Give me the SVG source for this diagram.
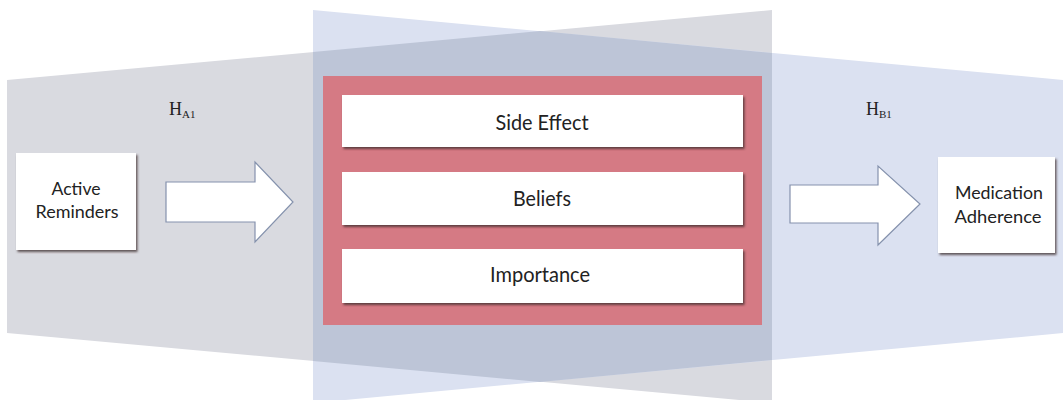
<svg xmlns="http://www.w3.org/2000/svg" width="1063" height="400" viewBox="0 0 1063 400">
  <defs>
    <filter id="sh" x="-10%" y="-10%" width="130%" height="140%">
      <feDropShadow dx="1.5" dy="2" stdDeviation="0.8" flood-color="#3a2a2a" flood-opacity="0.75"/>
    </filter>
  </defs>
  <style>
    .box { fill: #ffffff; filter: url(#sh); }
    .lbl { font-family: "Lato", "Open Sans", "Liberation Sans", sans-serif; fill: #222222; text-anchor: middle; }
    .big { font-size: 21px; }
    .small { font-size: 18px; }
    .hyp { font-family: "Liberation Serif", "Times New Roman", serif; fill: #222222; }
    .arrow { fill: #ffffff; stroke: #8592ad; stroke-width: 1.2; stroke-linejoin: miter; }
  </style>
  <rect x="0" y="0" width="1063" height="400" fill="#ffffff"/>
  <g id="background">
    <polygon points="7,80 772,10 772,403 7,333" fill="#d9dae0"/>
    <polygon points="313,10 1063,80 1063,333 313,403" fill="#dbe1f1"/>
    <polygon points="313,52 540,31 772,53 772,360 540,382 313,361" fill="#bdc5d7"/>
  </g>
  <g id="mediators-frame">
    <rect x="323" y="76" width="439" height="249" fill="#d57a84"/>
  </g>
  <g id="side-effect">
    <rect class="box" x="342" y="95" width="401" height="52"/>
    <text class="lbl big" x="542" y="130" textLength="93" lengthAdjust="spacingAndGlyphs">Side Effect</text>
  </g>
  <g id="beliefs">
    <rect class="box" x="342" y="172" width="401" height="53"/>
    <text class="lbl big" x="542" y="206" textLength="58" lengthAdjust="spacingAndGlyphs">Beliefs</text>
  </g>
  <g id="importance">
    <rect class="box" x="342" y="249" width="401" height="54"/>
    <text class="lbl big" x="540" y="282" textLength="100" lengthAdjust="spacingAndGlyphs">Importance</text>
  </g>
  <g id="active-reminders">
    <rect class="box" x="16" y="153" width="120" height="97"/>
    <text class="lbl small" x="76" y="195" textLength="49" lengthAdjust="spacingAndGlyphs">Active</text>
    <text class="lbl small" x="77" y="218" textLength="83" lengthAdjust="spacingAndGlyphs">Reminders</text>
  </g>
  <g id="medication-adherence">
    <rect class="box" x="938" y="157" width="117" height="96"/>
    <text class="lbl small" x="999" y="199" textLength="88" lengthAdjust="spacingAndGlyphs">Medication</text>
    <text class="lbl small" x="998" y="223" textLength="87" lengthAdjust="spacingAndGlyphs">Adherence</text>
  </g>
  <g id="hypothesis-labels">
    <text class="hyp" x="169" y="115" font-size="18">H<tspan font-size="11" dy="3">A1</tspan></text>
    <text class="hyp" x="866" y="115" font-size="18">H<tspan font-size="11" dy="3">B1</tspan></text>
  </g>
  <g id="connectors">
    <polygon class="arrow" points="166,182 255,182 255,162 293,202 255,242 255,222 166,222"/>
    <polygon class="arrow" points="790,185 878,185 878,166 920,204 878,245 878,223 790,223"/>
  </g>
</svg>
